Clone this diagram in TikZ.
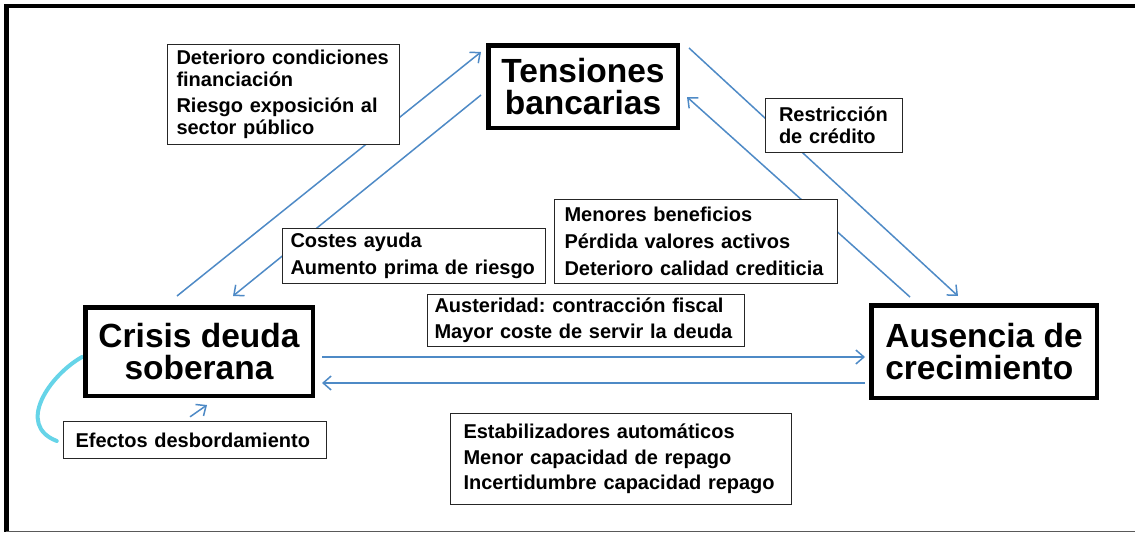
\documentclass[tikz,border=0pt]{standalone}
\usepackage{fontspec}
\setmainfont{Liberation Sans}
\usepackage{tikz}
\usetikzlibrary{arrows.meta,calc,backgrounds}

\definecolor{linkblue}{RGB}{78,138,198}
\definecolor{spillcyan}{RGB}{102,212,232}
\frenchspacing

\begin{document}
\begin{tikzpicture}[
    x=1pt, y=-1pt,
    main/.style={rectangle, draw=black, fill=white, line width=4.5pt, inner sep=0pt, font=\bfseries\fontsize{33.5}{32}\selectfont},
    note/.style={rectangle, draw=black!85, fill=white, line width=1.3pt, inner ysep=0pt, align=left, font=\bfseries\fontsize{20}{22}\selectfont},
    arrow/.style={-{Straight Barb[length=8pt,width=14pt]}, draw=linkblue, line width=1.5pt},
    spill/.style={draw=spillcyan, line width=4pt, line cap=round}
]
    \useasboundingbox (0,0) rectangle (1135,533);

    % Frame
    \draw[line width=3.5pt] (1150,6) -- (6,6);
    \draw[line width=5pt] (6,4) -- (6,532);
    \draw[line width=1.6pt, black!65] (6,531.5) -- (1150,531.5);

    % Main blocks
    \node[main, minimum width=189.5pt, minimum height=82.5pt, align=center] (tens) at (583,86.5) {Tensiones\\bancarias};
    \node[main, minimum width=227.5pt, minimum height=88.5pt, align=center] (crisis) at (199,351.5) {Crisis deuda\\soberana};
    \node[main, minimum width=225.5pt, minimum height=92.5pt, inner xsep=14pt, align=left] (ausencia) at (984,351.5) {Ausencia de\\crecimiento};

    % Channels
    \node[note, text width=214pt, inner xsep=9pt, minimum height=100pt] (finan) at (283.5,94.5)
        {Deterioro condiciones\\financiación\\[4pt]Riesgo exposición al\\sector público};
    \node[note, text width=110pt, inner xsep=13.5pt, minimum height=54pt] (credito) at (834,125.5)
        {Restricción\\de crédito};
    \node[note, text width=263pt, inner xsep=10pt, minimum height=84pt] (beneficios) at (696,241.5)
        {Menores beneficios\\[5pt]Pérdida valores activos\\[5pt]Deterioro calidad crediticia};
    \node[note, text width=247pt, inner xsep=8pt, minimum height=55pt] (ayuda) at (414,256)
        {Costes ayuda\\[5pt]Aumento prima de riesgo};
    \node[note, text width=303pt, inner xsep=7pt, minimum height=52pt] (austeridad) at (586,320.5)
        {Austeridad: contracción fiscal\\[4pt]Mayor coste de servir la deuda};
    \node[note, text width=315pt, inner xsep=13pt, minimum height=91pt] (estabil) at (621,459)
        {Estabilizadores automáticos\\[3.5pt]Menor capacidad de repago\\[3.5pt]Incertidumbre capacidad repago};
    \node[note, text width=239pt, inner xsep=12pt, minimum height=37pt] (desborde) at (195,440)
        {Efectos desbordamiento};

    % Arrows (behind the boxes)
    \begin{scope}[on background layer]
        \draw[arrow] ($(crisis.north)+(-22,-9)$) -- ($(tens.west)+(-5,-34.5)$);
        \draw[arrow] ($(tens.west)+(-5,8.5)$) -- ($(crisis.north)+(34,-9)$);
        \draw[arrow] ($(tens.east)+(9,-38.5)$) -- ($(ausencia.north)+(-26,-7)$);
        \draw[arrow] ($(ausencia.north)+(-74,-6)$) -- ($(tens.east)+(7,10.5)$);
        \draw[arrow] ($(crisis.east)+(7,5.5)$) -- ($(ausencia.west)+(-4,5.5)$);
        \draw[arrow] ($(ausencia.west)+(-4,31.5)$) -- ($(crisis.east)+(7,31.5)$);
        \draw[arrow] ($(desborde.north)+(-5,-4)$) -- ($(crisis.south)+(8,7)$);
        \draw[spill] ($(crisis.west)+(-1,5.5)$) .. controls (50,375) and (15,425) .. ($(desborde.west)+(-6,1)$);
    \end{scope}
\end{tikzpicture}
\end{document}
